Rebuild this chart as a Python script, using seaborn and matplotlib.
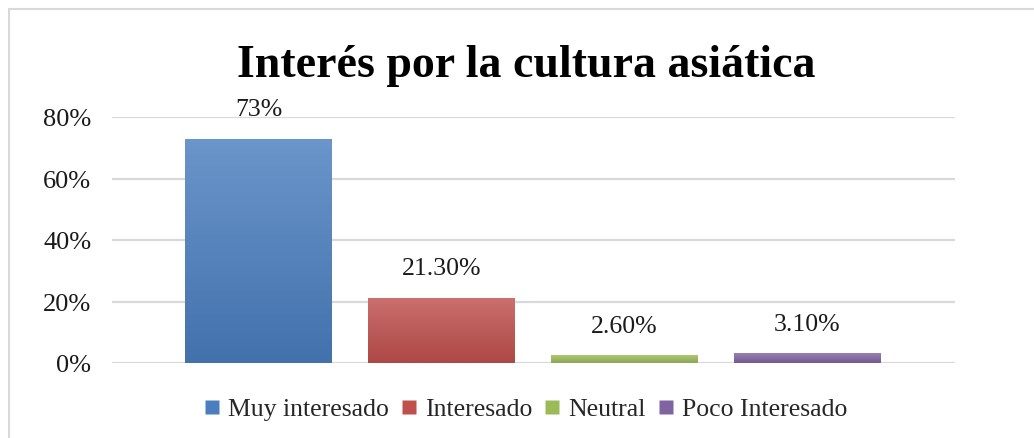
import numpy as np
import pandas as pd
import matplotlib
matplotlib.use("Agg")
import matplotlib.pyplot as plt
from matplotlib.patches import Rectangle
from matplotlib.lines import Line2D
import matplotlib.colors as mcolors
import seaborn as sns

categories = ["Muy interesado", "Interesado", "Neutral", "Poco Interesado"]
values = [0.73, 0.213, 0.026, 0.031]
value_labels = ["73%", "21.30%", "2.60%", "3.10%"]
colors = ["#4a7ebf", "#c0504d", "#9bbb59", "#8064a2"]
yticks = [0.0, 0.2, 0.4, 0.6, 0.8]
ytick_labels = ["0%", "20%", "40%", "60%", "80%"]
title = "Interés por la cultura asiática"

sns.set_theme(style="white")
plt.rcParams["font.family"] = ["Liberation Serif", "DejaVu Serif"]

df = pd.DataFrame({"cat": categories, "val": values})

fig = plt.figure(figsize=(10.34, 4.39), dpi=100)
ax = fig.add_axes([112/1034, 1-364/439, (955-112)/1034, (364-118)/439])

sns.barplot(data=df, x="cat", y="val", hue="cat", palette=colors,
            width=0.803, legend=False, ax=ax, saturation=1, edgecolor="none")

ax.set_xlim(-0.80, 3.806)
ax.set_ylim(0, 0.8)

# gradient fill for each bar
for patch, c in zip(ax.patches, colors):
    x, y = patch.get_x(), patch.get_y()
    w, h = patch.get_width(), patch.get_height()
    base = np.array(mcolors.to_rgb(c))
    top = base + (1 - base) * 0.18
    bot = base * 0.9
    n = 64
    t = np.linspace(0, 1, n)[:, None]
    grad = top[None, :] * (1 - t) + bot[None, :] * t
    img = grad[:, None, :]
    im = ax.imshow(img, extent=[x, x + w, y, y + h], aspect="auto",
                   origin="upper", zorder=patch.get_zorder() + 0.1,
                   interpolation="bilinear")
    im.set_clip_path(patch)
ax.set_xlim(-0.80, 3.806)
ax.set_ylim(0, 0.8)

for i, (v, lab) in enumerate(zip(values, value_labels)):
    ax.annotate(lab, (i, v), xytext=(0, 21), textcoords="offset points",
                ha="center", va="center", fontsize=18.5, color="#1a1a1a",
                annotation_clip=False)

ax.set_yticks(yticks)
ax.set_yticklabels(ytick_labels, fontsize=19, color="#1a1a1a")
ax.set_xticks([])
ax.set_xlabel("")
ax.set_ylabel("")
ax.tick_params(axis="y", length=0, pad=15)
ax.yaxis.grid(True, color="#d9d9d9", linewidth=1.6)
ax.set_axisbelow(True)
for s in ax.spines.values():
    s.set_visible(False)

fig.text(526/1034, 1-66/439, title, ha="center", va="center",
         fontsize=33, fontweight="bold", color="black")

handles = [Line2D([0], [0], marker="s", linestyle="none", markersize=10,
                  markerfacecolor=c, markeredgecolor="none") for c in colors]
fig.legend(handles, categories, loc="center", bbox_to_anchor=(526/1034, 1-410/439),
           ncol=4, frameon=False, fontsize=18.5, handlelength=0.55,
           handletextpad=0.35, columnspacing=0.5)

# outer chart border
border = Rectangle((9/1034, -0.05), 1.1, 1-10/439+0.05, transform=fig.transFigure,
                   fill=False, edgecolor="#d9d9d9", linewidth=1.5)
fig.patches.append(border)

fig.savefig("out.png", dpi=100, facecolor="white")
